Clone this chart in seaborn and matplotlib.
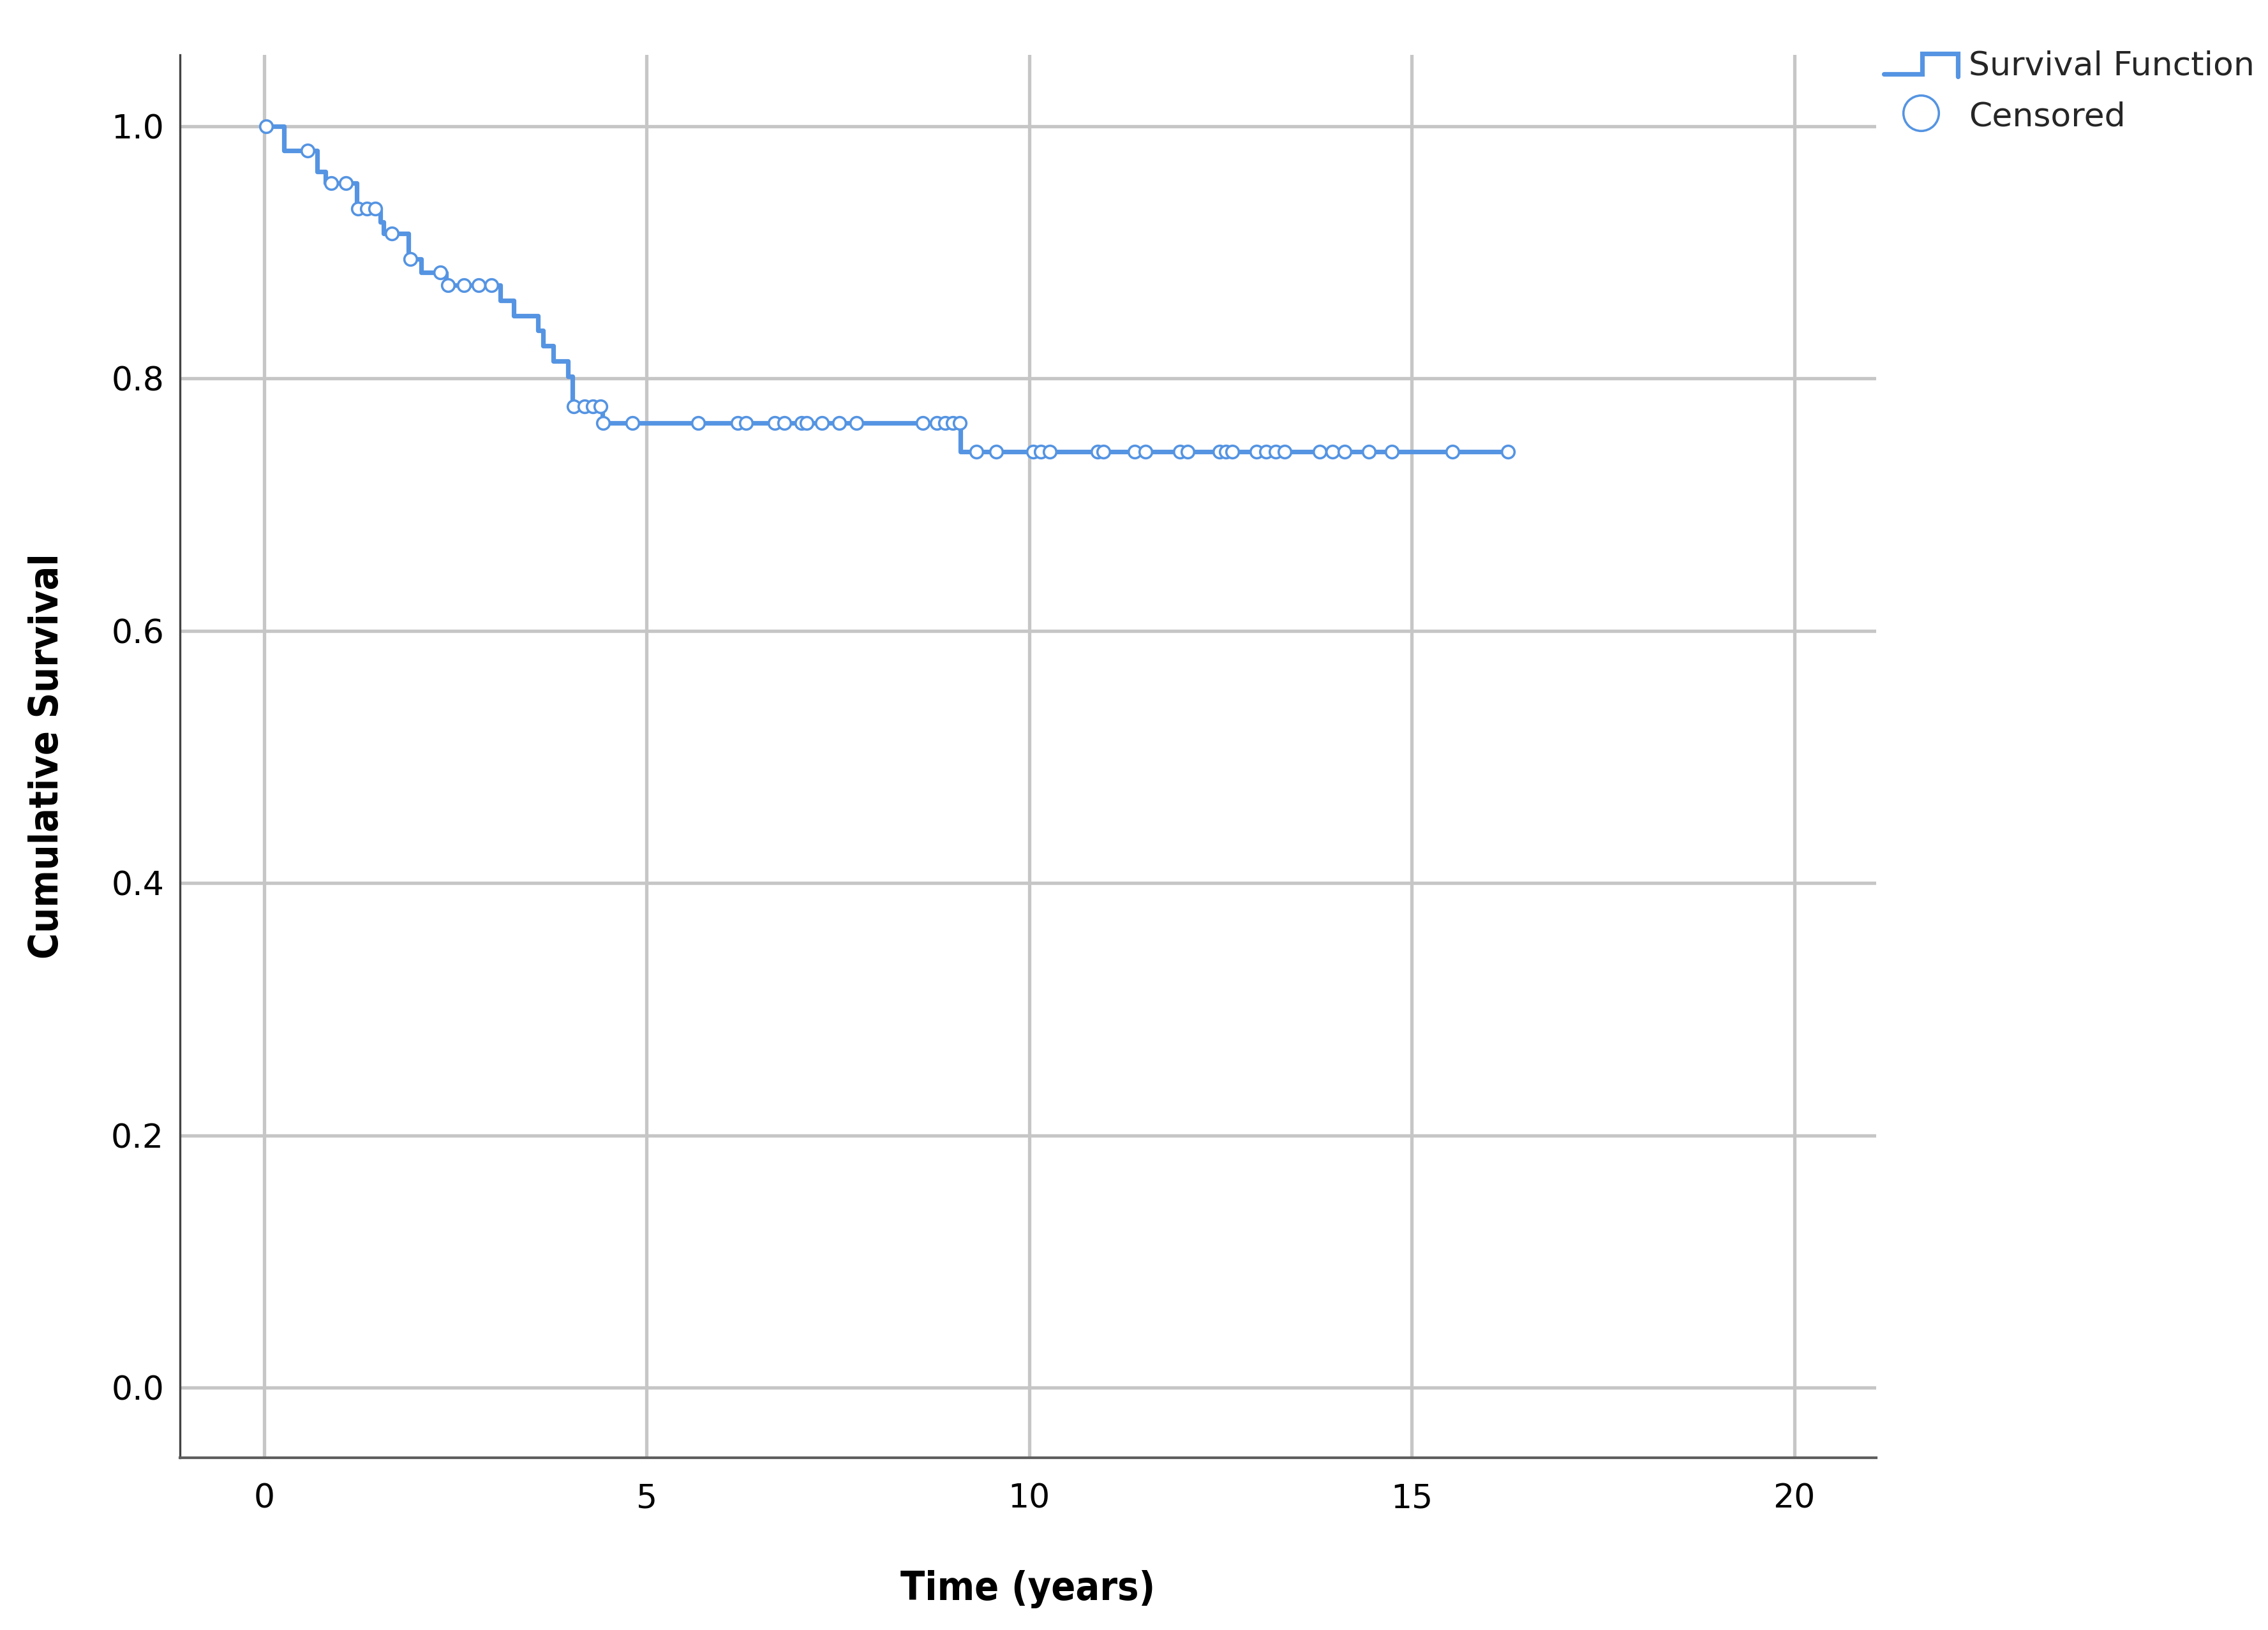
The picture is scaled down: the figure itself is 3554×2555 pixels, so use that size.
import numpy as np
import pandas as pd
import matplotlib
matplotlib.use("Agg")
import matplotlib.pyplot as plt
from matplotlib.lines import Line2D
from matplotlib import font_manager
import seaborn as sns

# ---------------- data ----------------
step_times = [0.00, 0.26, 0.69, 0.80, 1.21, 1.52, 1.56, 1.89, 2.05, 2.38,
              3.09, 3.26, 3.58, 3.65, 3.78, 3.97, 4.03, 4.42, 9.10, 16.26]
step_surv = [1.000, 0.981, 0.964, 0.955, 0.935, 0.924, 0.915, 0.895, 0.884, 0.874,
             0.862, 0.850, 0.838, 0.826, 0.814, 0.802, 0.778, 0.765, 0.742, 0.742]

censor_times = [0.03, 0.57, 0.88, 1.07, 1.23, 1.34, 1.45, 1.67, 1.91, 2.30,
                2.40, 2.61, 2.80, 2.97, 4.05, 4.19, 4.30, 4.40,
                4.43, 4.81, 5.67, 6.19, 6.30, 6.67, 6.80, 7.02, 7.09, 7.29,
                7.52, 7.74, 8.61, 8.79, 8.90, 9.00, 9.09,
                9.31, 9.57, 10.05, 10.15, 10.27, 10.89, 10.97, 11.38, 11.52,
                11.97, 12.07, 12.49, 12.57, 12.65, 12.97, 13.10, 13.22, 13.34,
                13.80, 13.96, 14.12, 14.44, 14.74, 15.53, 16.26]

x_ticks = [0, 5, 10, 15, 20]
y_ticks = [0.0, 0.2, 0.4, 0.6, 0.8, 1.0]
y_tick_labels = ["0.0", "0.2", "0.4", "0.6", "0.8", "1.0"]
x_label = "Time (years)"
y_label = "Cumulative Survival"
legend_labels = ["Survival Function", "Censored"]

# ---------------- style ----------------
sns.set_style("white")
plt.rcParams["font.family"] = ["DejaVu Sans"]

BLUE = "#5594e2"
GRID = "#c6c6c6"

W, H = 3554, 2555
DPI = 100
fig = plt.figure(figsize=(W / DPI, H / DPI), dpi=DPI, facecolor="white")

ax_l, ax_r, ax_t, ax_b = 282, 2940, 86, 2285
ax = fig.add_axes([ax_l / W, 1 - ax_b / H, (ax_r - ax_l) / W, (ax_b - ax_t) / H])

surv_df = pd.DataFrame({"time": step_times, "surv": step_surv})
idx = np.searchsorted(np.array(step_times), np.array(censor_times), side="right") - 1
cens_df = pd.DataFrame({"time": censor_times, "surv": np.array(step_surv)[idx]})

sns.lineplot(data=surv_df, x="time", y="surv", drawstyle="steps-post",
             color=BLUE, linewidth=5.2, estimator=None, sort=False,
             ax=ax, zorder=3)
sns.scatterplot(data=cens_df, x="time", y="surv", marker="o", s=200,
                color="white", edgecolor=BLUE, linewidth=2.6,
                ax=ax, zorder=4)

ax.set_xlim(-1.10, 21.07)
ax.set_ylim(-0.0556, 1.0567)
ax.set_xticks(x_ticks)
ax.set_xticklabels([str(t) for t in x_ticks])
ax.set_yticks(y_ticks)
ax.set_yticklabels(y_tick_labels)

ax.grid(True, color=GRID, linewidth=3.8)
ax.set_axisbelow(True)

for s in ["top", "right"]:
    ax.spines[s].set_visible(False)
ax.spines["left"].set_color("#444444")
ax.spines["left"].set_linewidth(2.4)
ax.spines["bottom"].set_color("#5e5e5e")
ax.spines["bottom"].set_linewidth(3.0)

ax.tick_params(axis="both", length=0, labelsize=37.5, labelcolor="black")
ax.tick_params(axis="x", pad=28.5)
ax.tick_params(axis="y", pad=18)

# condensed bold if available
has_cond = any(f.name == "DejaVu Sans" and f.stretch == "condensed"
               for f in font_manager.fontManager.ttflist)
lab_kw = dict(fontsize=40.5, fontweight="bold", color="black")
if has_cond:
    lab_kw = dict(fontsize=45, fontweight="bold", color="black", fontstretch="condensed")

ax.set_xlabel(x_label, **lab_kw)
ax.set_ylabel(y_label, **lab_kw)
ax.xaxis.set_label_coords(0.5, -(2461 - ax_b) / (ax_b - ax_t))
ax.yaxis.set_label_coords((104 - ax_l) / (ax_r - ax_l), 0.5)

# ---------------- legend (outside, top right) ----------------
def fx(px):
    return px / W

def fy(py):
    return 1 - py / H

step_icon_x = [2952, 3012, 3012, 3068, 3068]
step_icon_y = [116, 116, 84, 84, 120]
fig.add_artist(Line2D([fx(v) for v in step_icon_x], [fy(v) for v in step_icon_y],
                      transform=fig.transFigure, color=BLUE, linewidth=5.2,
                      solid_joinstyle="miter"))
fig.add_artist(Line2D([fx(3010)], [fy(177)], transform=fig.transFigure,
                      marker="o", markersize=40, markerfacecolor="white",
                      markeredgecolor=BLUE, markeredgewidth=2.6, linestyle="none"))
fig.text(fx(3085), fy(118), legend_labels[0], fontsize=37.5, va="baseline", ha="left")
fig.text(fx(3085), fy(197), legend_labels[1], fontsize=37.5, va="baseline", ha="left")

fig.savefig("out.png", dpi=DPI, facecolor="white")
